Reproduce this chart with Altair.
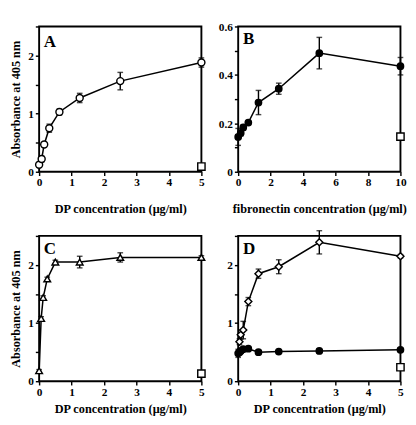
import altair as alt
import pandas as pd

# ---------------- data ----------------
# Panel A: DP (open circles)
a_x = [0, 0.078, 0.156, 0.3125, 0.625, 1.25, 2.5, 5]
a_y = [0.12, 0.22, 0.47, 0.75, 1.03, 1.27, 1.56, 1.88]
a_err = [0.04, 0.05, 0.04, 0.07, 0.05, 0.08, 0.15, 0.08]
a_ctrl_x = [5]
a_ctrl_y = [0.09]

# Panel B: fibronectin (filled circles)
b_x = [0, 0.156, 0.3125, 0.625, 1.25, 2.5, 5, 10]
b_y = [0.144, 0.16, 0.183, 0.203, 0.286, 0.343, 0.49, 0.436]
b_err = [0.035, 0.012, 0.01, 0.008, 0.05, 0.023, 0.065, 0.036]
b_ctrl_x = [10]
b_ctrl_y = [0.145]

# Panel C: DP (open triangles)
c_x = [0, 0.0625, 0.125, 0.25, 0.5, 1.25, 2.5, 5]
c_y = [0.18, 1.08, 1.44, 1.76, 2.05, 2.05, 2.13, 2.13]
c_err = [0.02, 0.03, 0.03, 0.03, 0.03, 0.1, 0.08, 0.03]
c_ctrl_x = [5]
c_ctrl_y = [0.13]

# Panel D: open series and filled series
d1_x = [0.039, 0.078, 0.156, 0.3125, 0.625, 1.25, 2.5, 5]
d1_y = [0.68, 0.8, 0.88, 1.37, 1.85, 1.97, 2.39, 2.15]
d1_err = [0.05, 0.08, 0.15, 0.07, 0.08, 0.12, 0.2, 0.03]
d2_x = [0, 0.039, 0.078, 0.156, 0.3125, 0.625, 1.25, 2.5, 5]
d2_y = [0.48, 0.5, 0.52, 0.55, 0.56, 0.5, 0.51, 0.52, 0.54]
d2_err = [0.07, 0.04, 0.04, 0.03, 0.03, 0.03, 0.03, 0.03, 0.03]
d_ctrl_x = [5]
d_ctrl_y = [0.24]

Y_TITLE = "Absorbance at 405 nm"
X_TITLE_DP = "DP concentration  (μg/ml)"
X_TITLE_FN = "fibronectin concentration (μg/ml)"

FONT = "Liberation Serif"
W, H = 172, 154


def frame(x, y, e):
    return pd.DataFrame({"x": x, "y": y,
                         "lo": [v - s for v, s in zip(y, e)],
                         "hi": [v + s for v, s in zip(y, e)]})


def panel(letter, letter_y, layers_data, ctrl_x, ctrl_y, xmax, ymax, xvals, yvals,
          ylabel_expr, xtitle, xtitle_pad, ytitle):
    xs = alt.Scale(domain=[0, xmax], nice=False, zero=True)
    ys = alt.Scale(domain=[0, ymax], nice=False, zero=True)
    if ytitle:
        yaxis = alt.Axis(values=yvals, labelExpr=ylabel_expr, title=ytitle,
                         labelOverlap=False)
    else:
        yaxis = alt.Axis(values=yvals, labelExpr=ylabel_expr, title=None,
                         labelOverlap=False)
    xaxis = alt.Axis(values=xvals, labelExpr="format(datum.value, 'd')", title=xtitle,
                     titlePadding=xtitle_pad, labelOverlap=False)

    def XX(field):
        return alt.X(field, scale=xs, axis=xaxis)

    def YY(field):
        return alt.Y(field, scale=ys, axis=yaxis)

    layers = []
    for df, shape, filled, size in layers_data:
        base = alt.Chart(df)
        layers.append(base.mark_rule(color="black", strokeWidth=1.5).encode(
            x=XX("x:Q"), y=YY("lo:Q"), y2="hi:Q"))
        layers.append(base.mark_tick(color="black", orient="horizontal", size=6,
                                     thickness=1.5).encode(x=XX("x:Q"), y=YY("lo:Q")))
        layers.append(base.mark_tick(color="black", orient="horizontal", size=6,
                                     thickness=1.5).encode(x=XX("x:Q"), y=YY("hi:Q")))
        layers.append(base.mark_line(color="black", strokeWidth=1.6).encode(
            x=XX("x:Q"), y=YY("y:Q")))
        layers.append(base.mark_point(shape=shape, filled=True,
                                      fill="black" if filled else "white",
                                      stroke="black", strokeWidth=1.5, size=size,
                                      opacity=1).encode(x=XX("x:Q"), y=YY("y:Q")))
    ctrl = alt.Chart(pd.DataFrame({"x": ctrl_x, "y": ctrl_y})).mark_point(
        shape="square", filled=True, fill="white", stroke="black", strokeWidth=1.5,
        size=60, opacity=1).encode(x=XX("x:Q"), y=YY("y:Q"))
    layers.append(ctrl)
    lab = alt.Chart(pd.DataFrame({"t": [letter]})).mark_text(
        font=FONT, fontSize=18, fontWeight="bold", color="black", align="left",
        baseline="top").encode(x=alt.value(5), y=alt.value(letter_y), text="t:N")
    layers.append(lab)
    return alt.layer(*layers).properties(width=W, height=H)


int_labels = "datum.value % 1 == 0 ? format(datum.value, 'd') : ''"
b_labels = ("round(datum.value * 10) % 2 == 0 ? (datum.value == 0 ? '0' : "
            "format(datum.value, '.1f')) : ''")

yv = [0, 0.5, 1, 1.5, 2, 2.5]
xv = [0, 1, 2, 3, 4, 5]

pA = panel("A", 8, [(frame(a_x, a_y, a_err), "circle", False, 55)], a_ctrl_x, a_ctrl_y,
           5, 2.5, xv, yv, int_labels, X_TITLE_DP, 16, Y_TITLE)
pB = panel("B", 5, [(frame(b_x, b_y, b_err), "circle", True, 45)], b_ctrl_x, b_ctrl_y,
           10, 0.6, [0, 2, 4, 6, 8, 10], [0, 0.1, 0.2, 0.3, 0.4, 0.5, 0.6], b_labels,
           X_TITLE_FN, 16, None)
pC = panel("C", 5, [(frame(c_x, c_y, c_err), "triangle-up", False, 50)], c_ctrl_x,
           c_ctrl_y, 5, 2.5, xv, yv, int_labels, X_TITLE_DP, 6, Y_TITLE)
pD = panel("D", 5, [(frame(d2_x, d2_y, d2_err), "circle", True, 45),
                    (frame(d1_x, d1_y, d1_err), "diamond", False, 55)], d_ctrl_x,
           d_ctrl_y, 5, 2.5, xv, yv, int_labels, X_TITLE_DP, 6, None)

top = alt.hconcat(pA, pB, spacing=9)
bottom = alt.hconcat(pC, pD, spacing=18)
chart = alt.vconcat(top, bottom, spacing=13).properties(padding=0).configure(
    background="white",
    view=alt.ViewConfig(stroke="black", strokeWidth=2),
    axis=alt.AxisConfig(domain=False, grid=False, ticks=True, tickSize=4, tickWidth=1.5,
                        tickColor="black", labelFont=FONT, labelFontSize=12,
                        labelFontWeight="bold", labelColor="black",
                        labelFlush=False, labelPadding=2, titleFont=FONT,
                        titleFontSize=13, titleFontWeight="bold", titleColor="black"),
    axisY=alt.AxisConfig(titlePadding=6),
)

chart.save("out.html", embed_options={"renderer": "svg", "actions": False})
